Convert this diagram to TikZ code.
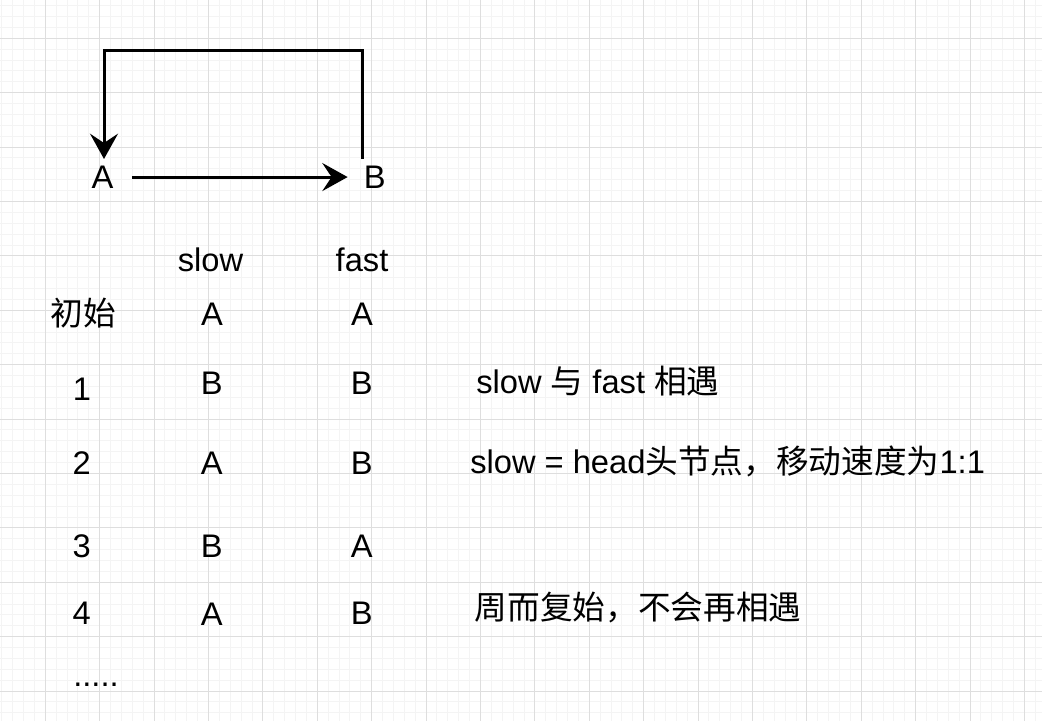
\documentclass[tikz,border=0pt]{standalone}
\usepackage{fontspec}
\setmainfont{Liberation Sans}
\newfontfamily\cjk{Noto Sans CJK SC}
\usetikzlibrary{arrows.meta}
\definecolor{gmajor}{HTML}{DEDEDE}
\definecolor{gminor}{HTML}{F4F4F4}
\begin{document}
\begin{tikzpicture}[x=0.75pt,y=-0.75pt,
  txt/.style={inner sep=0pt, anchor=base, font=\fontsize{24.5}{28}\selectfont},
  ltxt/.style={inner sep=0pt, anchor=base west, font=\fontsize{24.5}{28}\selectfont},
  arr/.style={line width=2.25pt, line join=miter, -{Stealth[length=19pt,width=21pt,inset=7pt]}},
  minorline/.style={gminor, line width=0.75pt},
  majorline/.style={gmajor, line width=0.75pt}]
\useasboundingbox (0,0) rectangle (1042,721);
\fill[white] (0,0) rectangle (1042,721);
% grid
\foreach \i in {0,...,95} \draw[minorline] ({1.78+\i*10.88},0) -- ({1.78+\i*10.88},721);
\foreach \j in {0,...,66} \draw[minorline] (0,{5.66+\j*10.88}) -- (1042,{5.66+\j*10.88});
\foreach \i in {0,...,18} \draw[majorline] ({45.3+\i*54.4},0) -- ({45.3+\i*54.4},721);
\foreach \j in {0,...,12} \draw[majorline] (0,{38.3+\j*54.4}) -- (1042,{38.3+\j*54.4});
% top diagram
\node[txt, inner xsep=13.7pt] (A) at (102.5,188.3) {A};
\node[txt, inner xsep=12pt] (B) at (374.8,188.3) {B};
\draw[arr] (A.east) -- (B.west);
\coordinate (bt) at (362.7,159);
\coordinate (at) at (104,159);
\coordinate (top) at (233,50.7);
\draw[arr] (bt) |- (top) -| (at);
% table header
\node[txt] (hslow) at (210.5,271.7) {slow};
\node[txt] (hfast) at (362,271.7) {fast};
% row 0
\node[txt] (r0) at (83,325.7) {\cjk 初始};
\node[txt] (r0s) at (212,325.7) {A};
\node[txt] (r0f) at (362,325.7) {A};
% row 1
\node[txt] (r1) at (82,400) {1};
\node[txt] (r1s) at (211.7,394) {B};
\node[txt] (r1f) at (361.7,394) {B};
\node[ltxt] (n1) at (476,393.3) {slow {\cjk 与} fast {\cjk 相遇}};
% row 2
\node[txt] (r2) at (81.7,474) {2};
\node[txt] (r2s) at (211.7,474) {A};
\node[txt] (r2f) at (361.7,474) {B};
\node[ltxt] (n2) at (470,473.3) {slow = head{\cjk 头节点，移动速度为}1:1};
% row 3
\node[txt] (r3) at (81.7,557.3) {3};
\node[txt] (r3s) at (211.7,557.3) {B};
\node[txt] (r3f) at (361.7,557.3) {A};
% row 4
\node[txt] (r4) at (81.7,624) {4};
\node[txt] (r4s) at (211.7,625.7) {A};
\node[txt] (r4f) at (361.7,624.7) {B};
\node[ltxt] (n4) at (474.5,619) {\cjk 周而复始，不会再相遇};
% dots
\node[txt] (dots) at (96,686) {.....};
\end{tikzpicture}
\end{document}
